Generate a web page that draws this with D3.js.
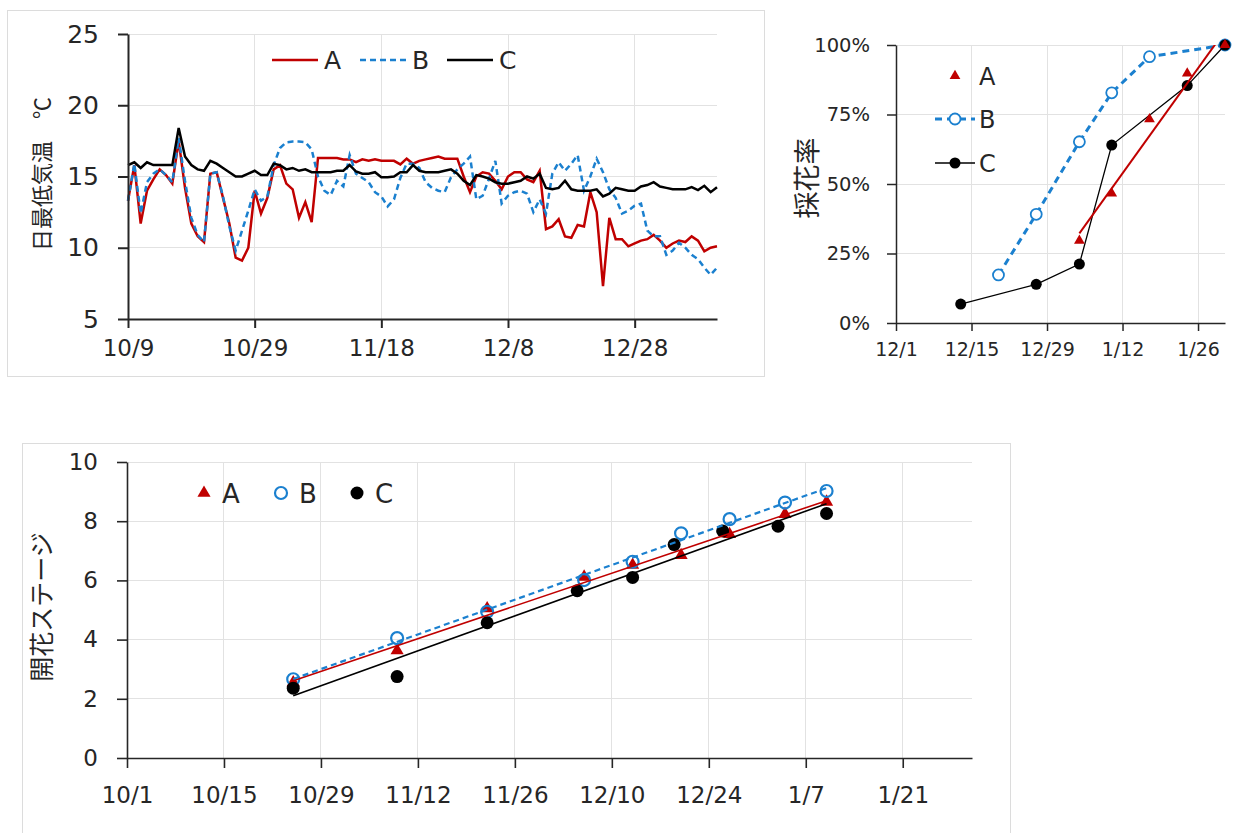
<!DOCTYPE html>
<head>
<meta charset="utf-8">
<title>日最低気温・採花率・開花ステージ</title>
<script src="https://d3js.org/d3.v7.min.js"></script>
<style>
body { margin: 0; background: #ffffff; }
svg text { font-family: "DejaVu Sans", "Noto Sans CJK JP", sans-serif; fill: #262626; }
svg text.jp { font-family: "Noto Sans CJK JP", sans-serif; }
.grid line { stroke: #e2e2e2; stroke-width: 1; shape-rendering: crispEdges; }
.axis path, .axis line { stroke: #262626; }
.frame { fill: none; stroke: #dcdcdc; stroke-width: 1; }
</style>
</head>
<body>
<div id="container"></div>
<script>

//------------------------ DATA ------------------------//

const parseDate = d3.timeParse("%Y-%m-%d");
const fmtMD = d3.timeFormat("%-m/%-d");

const seriesNames = ["A", "B", "C"];
const colA = "#c00000", colB = "#1b80cf", colC = "#000000";

// chart 1 : daily minimum temperature, one value per day from tempStart
const tempStart = "2019-10-09";
const tempA = [13.3, 15.8, 11.7, 14.0, 14.8, 15.5, 15.1, 14.5, 17.5, 14.2,
  11.7, 10.8, 10.4, 15.2, 15.3, 13.5, 11.7, 9.3, 9.1, 10.0,
  14.0, 12.4, 13.5, 15.5, 15.8, 14.5, 14.1, 12.1, 13.2, 11.8,
  16.3, 16.3, 16.3, 16.3, 16.2, 16.2, 16.0, 16.2, 16.1, 16.2,
  16.1, 16.1, 16.1, 15.85, 16.25, 15.9, 16.1, 16.2, 16.3, 16.4,
  16.25, 16.25, 16.25, 15.0, 13.9, 15.0, 15.3, 15.2, 14.7, 14.1,
  15.0, 15.3, 15.3, 14.8, 14.6, 15.4, 11.3, 11.5, 12.0, 10.8,
  10.7, 11.6, 11.5, 13.9, 12.5, 7.3, 12.1, 10.6, 10.6, 10.1,
  10.3, 10.5, 10.6, 10.9, 10.5, 10.0, 10.3, 10.5, 10.4, 10.8,
  10.5, 9.75, 10.0, 10.1];
const tempB = [13.3, 15.9, 12.4, 14.6, 15.2, 15.5, 15.1, 14.6, 17.7, 14.7,
  12.1, 10.9, 10.4, 15.2, 15.3, 13.6, 11.5, 9.8, 11.2, 12.6,
  14.1, 13.3, 13.6, 15.8, 17.0, 17.4, 17.45, 17.45, 17.4, 16.9,
  15.0, 14.0, 13.7, 14.7, 14.3, 16.5, 15.2, 14.9, 14.6, 13.9,
  13.6, 12.9, 13.4, 14.9, 15.9, 15.9, 15.6, 14.6, 14.2, 14.0,
  13.9, 14.95, 15.5, 15.9, 16.4, 13.4, 13.65, 14.85, 16.1, 13.1,
  13.65, 13.9, 14.0, 13.8, 12.5, 13.4, 12.4, 15.2, 16.0, 15.4,
  15.9, 16.5, 14.0, 15.0, 16.25, 15.3, 14.1, 13.5, 12.4, 12.6,
  12.95, 13.1, 11.2, 10.8, 10.8, 9.5, 9.8, 10.35, 10.0, 9.5,
  9.2, 8.6, 8.1, 8.6];
const tempC = [15.8, 16.0, 15.6, 16.0, 15.8, 15.8, 15.8, 15.8, 18.4, 16.4,
  15.8, 15.5, 15.4, 16.1, 15.9, 15.6, 15.3, 15.0, 15.0, 15.2,
  15.4, 15.1, 15.1, 15.9, 15.8, 15.5, 15.6, 15.4, 15.5, 15.3,
  15.3, 15.3, 15.3, 15.4, 15.4, 15.8, 15.35, 15.2, 15.2, 15.3,
  14.95, 14.95, 15.0, 15.3, 15.3, 15.8, 15.4, 15.3, 15.3, 15.3,
  15.4, 15.5, 15.2, 14.7, 14.4, 15.1, 15.0, 14.85, 14.6, 14.5,
  14.5, 14.6, 14.7, 15.0, 14.85, 15.2, 14.2, 14.1, 14.2, 14.7,
  14.1, 14.0, 14.0, 14.0, 14.1, 13.6, 13.8, 14.2, 14.1, 14.0,
  14.0, 14.3, 14.4, 14.6, 14.3, 14.2, 14.1, 14.1, 14.1, 14.25,
  14.05, 14.35, 13.9, 14.25];
const tempDomain = ["2019-10-09", "2020-01-10"];
const tempXTicks = ["2019-10-09", "2019-10-29", "2019-11-18", "2019-12-08", "2019-12-28"];
const tempYTicks = [5, 10, 15, 20, 25];

// chart 2 : 採花率 (%)
const harvDatesA = ["2020-01-04", "2020-01-10", "2020-01-17", "2020-01-24", "2020-01-31"];
const harvA = [29.6, 46.6, 73.3, 89.8, 100];
const harvDatesB = ["2019-12-20", "2019-12-27", "2020-01-04", "2020-01-10", "2020-01-17", "2020-01-31"];
const harvB = [17.3, 39.1, 65.2, 82.8, 95.8, 100];
const harvDatesC = ["2019-12-13", "2019-12-27", "2020-01-04", "2020-01-10", "2020-01-24", "2020-01-31"];
const harvC = [6.8, 13.9, 21.2, 64.0, 85.4, 100];
const harvDomain = ["2019-12-01", "2020-01-31"];
const harvXTicks = ["2019-12-01", "2019-12-15", "2019-12-29", "2020-01-12", "2020-01-26"];
const harvYTicks = [0, 25, 50, 75, 100];

// chart 3 : 開花ステージ
const stageDatesAB = ["2019-10-25", "2019-11-09", "2019-11-22", "2019-12-06", "2019-12-13",
  "2019-12-20", "2019-12-27", "2020-01-04", "2020-01-10"];
const stageA = [2.55, 3.63, 5.05, 6.12, 6.52, 6.85, 7.56, 8.24, 8.65];
const stageB = [2.66, 4.05, 4.94, 6.01, 6.63, 7.59, 8.07, 8.63, 9.02];
const stageDatesC = ["2019-10-25", "2019-11-09", "2019-11-22", "2019-12-05", "2019-12-13",
  "2019-12-19", "2019-12-26", "2020-01-03", "2020-01-10"];
const stageC = [2.36, 2.75, 4.57, 5.65, 6.10, 7.21, 7.67, 7.83, 8.26];
const stageDomain = ["2019-10-01", "2020-01-31"];
const stageXTicks = ["2019-10-01", "2019-10-15", "2019-10-29", "2019-11-12", "2019-11-26",
  "2019-12-10", "2019-12-24", "2020-01-07", "2020-01-21"];
const stageYTicks = [0, 2, 4, 6, 8, 10];

//------------------------ HELPERS ------------------------//

function pairs(dates, vals) {
  return dates.map(function(d, i) { return {date: parseDate(d), v: vals[i]}; });
}

// least squares line through the points, returned at first and last date
function trend(pts) {
  const xs = pts.map(function(p) { return +p.date; });
  const mx = d3.mean(xs), my = d3.mean(pts, function(p) { return p.v; });
  let sxy = 0, sxx = 0;
  pts.forEach(function(p, i) { sxy += (xs[i] - mx) * (p.v - my); sxx += (xs[i] - mx) * (xs[i] - mx); });
  const b = sxy / sxx;
  const ends = [pts[0].date, pts[pts.length - 1].date];
  return ends.map(function(d) { return {date: d, v: my + b * (+d - mx)}; });
}

function drawGrid(g, x, y, xt, yt) {
  const grid = g.append("g").attr("class", "grid");
  grid.selectAll(".gy").data(yt).enter().append("line")
    .attr("x1", x.range()[0]).attr("x2", x.range()[1])
    .attr("y1", function(d) { return y(d); }).attr("y2", function(d) { return y(d); });
  grid.selectAll(".gx").data(xt).enter().append("line")
    .attr("x1", function(d) { return x(d); }).attr("x2", function(d) { return x(d); })
    .attr("y1", y.range()[0]).attr("y2", y.range()[1]);
}

const svg = d3.select("#container").append("svg")
  .attr("width", 1234).attr("height", 833);

//------------------------ CHART 1 : 日最低気温 ------------------------//

svg.append("rect").attr("class", "frame")
  .attr("x", 7.5).attr("y", 10.5).attr("width", 757).attr("height", 366);

const x1 = d3.scaleTime().domain(tempDomain.map(parseDate)).range([128, 717]);
const y1 = d3.scaleLinear().domain([5, 25]).range([319, 34]);
const t1 = tempXTicks.map(parseDate);

drawGrid(svg, x1, y1, t1, tempYTicks);

const start1 = parseDate(tempStart);
const line1 = d3.line()
  .x(function(d, i) { return x1(d3.timeDay.offset(start1, i)); })
  .y(function(d) { return y1(d); });

svg.append("path").attr("d", line1(tempA))
  .attr("fill", "none").attr("stroke", colA).attr("stroke-width", 2.5);
svg.append("path").attr("d", line1(tempB))
  .attr("fill", "none").attr("stroke", colB).attr("stroke-width", 2.5)
  .attr("stroke-dasharray", "6,4");
svg.append("path").attr("d", line1(tempC))
  .attr("fill", "none").attr("stroke", colC).attr("stroke-width", 2.5);

svg.append("g").attr("class", "axis")
  .attr("transform", "translate(0,319)")
  .call(d3.axisBottom(x1).tickValues(t1).tickFormat(fmtMD).tickSize(9).tickSizeOuter(0).tickPadding(12))
  .call(function(g) { g.selectAll("path,line").attr("stroke-width", 2); g.selectAll("text").style("font-size", "23px"); });

svg.append("g").attr("class", "axis")
  .attr("transform", "translate(128,0)")
  .call(d3.axisLeft(y1).tickValues(tempYTicks).tickSize(10).tickSizeOuter(0).tickPadding(19))
  .call(function(g) { g.selectAll("path,line").attr("stroke-width", 2); g.selectAll("text").style("font-size", "25px"); });

svg.append("text").attr("class", "jp")
  .attr("transform", "translate(50,174) rotate(-90)")
  .attr("text-anchor", "middle")
  .style("font-size", "22px")
  .text("日最低気温　℃");

// legend
const leg1 = [{x: 272, c: colA, dash: null}, {x: 360, c: colB, dash: "6,4"}, {x: 447, c: colC, dash: null}];
leg1.forEach(function(l, i) {
  svg.append("line").attr("x1", l.x).attr("x2", l.x + 46).attr("y1", 60).attr("y2", 60)
    .attr("stroke", l.c).attr("stroke-width", 2.5).attr("stroke-dasharray", l.dash);
  svg.append("text").attr("x", l.x + 52).attr("y", 69)
    .style("font-size", "25px").text(seriesNames[i]);
});

//------------------------ CHART 2 : 採花率 ------------------------//

const x2 = d3.scaleTime().domain(harvDomain.map(parseDate)).range([896, 1225]);
const y2 = d3.scaleLinear().domain([0, 100]).range([323, 45]);
const t2 = harvXTicks.map(parseDate);

drawGrid(svg, x2, y2, t2, harvYTicks);

const ptsA2 = pairs(harvDatesA, harvA), ptsB2 = pairs(harvDatesB, harvB), ptsC2 = pairs(harvDatesC, harvC);
const line2 = d3.line().x(function(d) { return x2(d.date); }).y(function(d) { return y2(d.v); });

svg.append("defs").append("clipPath").attr("id", "clip2")
  .append("rect").attr("x", 896).attr("y", 45).attr("width", 329).attr("height", 278);

svg.append("path").attr("d", line2(ptsB2))
  .attr("fill", "none").attr("stroke", colB).attr("stroke-width", 3).attr("stroke-dasharray", "7,5");
svg.selectAll(".ptB2").data(ptsB2).enter().append("circle")
  .attr("cx", function(d) { return x2(d.date); }).attr("cy", function(d) { return y2(d.v); })
  .attr("r", 5.5).attr("fill", "#fff").attr("stroke", colB).attr("stroke-width", 1.8);

svg.append("path").attr("d", line2(ptsC2))
  .attr("fill", "none").attr("stroke", colC).attr("stroke-width", 1.3);
svg.selectAll(".ptC2").data(ptsC2).enter().append("circle")
  .attr("cx", function(d) { return x2(d.date); }).attr("cy", function(d) { return y2(d.v); })
  .attr("r", 5.5).attr("fill", colC);

svg.selectAll(".ptA2").data(ptsA2).enter().append("path")
  .attr("d", d3.symbol(d3.symbolTriangle).size(50))
  .attr("transform", function(d) { return "translate(" + x2(d.date) + "," + y2(d.v) + ")"; })
  .attr("fill", colA);
svg.append("path").attr("d", line2(trend(ptsA2)))
  .attr("clip-path", "url(#clip2)")
  .attr("fill", "none").attr("stroke", colA).attr("stroke-width", 2);

svg.append("g").attr("class", "axis")
  .attr("transform", "translate(0,323)")
  .call(d3.axisBottom(x2).tickValues(t2).tickFormat(fmtMD).tickSize(8).tickSizeOuter(0).tickPadding(12))
  .call(function(g) { g.selectAll("path,line").attr("stroke-width", 1.5); g.selectAll("text").style("font-size", "19px"); });

svg.append("g").attr("class", "axis")
  .attr("transform", "translate(896,0)")
  .call(d3.axisLeft(y2).tickValues(harvYTicks).tickFormat(function(d) { return d + "%"; }).tickSize(9).tickSizeOuter(0).tickPadding(17))
  .call(function(g) { g.selectAll("path,line").attr("stroke-width", 1.5); g.selectAll("text").style("font-size", "19.5px"); });

svg.append("text").attr("class", "jp")
  .attr("transform", "translate(817,178) rotate(-90)")
  .attr("text-anchor", "middle")
  .style("font-size", "27px")
  .text("採花率");

// legend
svg.append("path").attr("d", d3.symbol(d3.symbolTriangle).size(50))
  .attr("transform", "translate(955,76)").attr("fill", colA);
svg.append("line").attr("x1", 935).attr("x2", 975).attr("y1", 119).attr("y2", 119)
  .attr("stroke", colB).attr("stroke-width", 3).attr("stroke-dasharray", "7,5");
svg.append("circle").attr("cx", 955).attr("cy", 119).attr("r", 5.5)
  .attr("fill", "#fff").attr("stroke", colB).attr("stroke-width", 1.8);
svg.append("line").attr("x1", 935).attr("x2", 975).attr("y1", 163).attr("y2", 163)
  .attr("stroke", colC).attr("stroke-width", 1.3);
svg.append("circle").attr("cx", 955).attr("cy", 163).attr("r", 5.5).attr("fill", colC);
[76, 119, 163].forEach(function(yy, i) {
  svg.append("text").attr("x", 979).attr("y", yy + 9)
    .style("font-size", "24px").text(seriesNames[i]);
});

//------------------------ CHART 3 : 開花ステージ ------------------------//

svg.append("rect").attr("class", "frame")
  .attr("x", 22.5).attr("y", 443.5).attr("width", 988).attr("height", 420);

const x3 = d3.scaleTime().domain(stageDomain.map(parseDate)).range([127, 972]);
const y3 = d3.scaleLinear().domain([0, 10]).range([758, 462]);
const t3 = stageXTicks.map(parseDate);

drawGrid(svg, x3, y3, t3, stageYTicks);

const ptsA3 = pairs(stageDatesAB, stageA), ptsB3 = pairs(stageDatesAB, stageB), ptsC3 = pairs(stageDatesC, stageC);
const line3 = d3.line().x(function(d) { return x3(d.date); }).y(function(d) { return y3(d.v); });

svg.selectAll(".ptA3").data(ptsA3).enter().append("path")
  .attr("d", d3.symbol(d3.symbolTriangle).size(75))
  .attr("transform", function(d) { return "translate(" + x3(d.date) + "," + y3(d.v) + ")"; })
  .attr("fill", colA);
svg.selectAll(".ptB3").data(ptsB3).enter().append("circle")
  .attr("cx", function(d) { return x3(d.date); }).attr("cy", function(d) { return y3(d.v); })
  .attr("r", 6).attr("fill", "none").attr("stroke", colB).attr("stroke-width", 2.2);
svg.selectAll(".ptC3").data(ptsC3).enter().append("circle")
  .attr("cx", function(d) { return x3(d.date); }).attr("cy", function(d) { return y3(d.v); })
  .attr("r", 6.5).attr("fill", colC);

svg.append("path").attr("d", line3(trend(ptsA3)))
  .attr("fill", "none").attr("stroke", colA).attr("stroke-width", 1.6);
svg.append("path").attr("d", line3(trend(ptsB3)))
  .attr("fill", "none").attr("stroke", colB).attr("stroke-width", 2.2).attr("stroke-dasharray", "6,4");
svg.append("path").attr("d", line3(trend(ptsC3)))
  .attr("fill", "none").attr("stroke", colC).attr("stroke-width", 1.6);

svg.append("g").attr("class", "axis")
  .attr("transform", "translate(0,758)")
  .call(d3.axisBottom(x3).tickValues(t3).tickFormat(fmtMD).tickSize(10).tickSizeOuter(0).tickPadding(19))
  .call(function(g) { g.selectAll("path,line").attr("stroke-width", 1.6); g.selectAll("text").style("font-size", "23px"); });

svg.append("g").attr("class", "axis")
  .attr("transform", "translate(127,0)")
  .call(d3.axisLeft(y3).tickValues(stageYTicks).tickSize(10).tickSizeOuter(0).tickPadding(19))
  .call(function(g) { g.selectAll("path,line").attr("stroke-width", 1.6); g.selectAll("text").style("font-size", "23px"); });

svg.append("text").attr("class", "jp")
  .attr("transform", "translate(51,607) rotate(-90)")
  .attr("text-anchor", "middle")
  .style("font-size", "25px")
  .text("開花ステージ");

// legend
svg.append("path").attr("d", d3.symbol(d3.symbolTriangle).size(75))
  .attr("transform", "translate(204,493)").attr("fill", colA);
svg.append("circle").attr("cx", 281).attr("cy", 493).attr("r", 6)
  .attr("fill", "none").attr("stroke", colB).attr("stroke-width", 2.2);
svg.append("circle").attr("cx", 357).attr("cy", 493).attr("r", 6.5).attr("fill", colC);
[222, 299, 375].forEach(function(xx, i) {
  svg.append("text").attr("x", xx).attr("y", 503)
    .style("font-size", "26px").text(seriesNames[i]);
});

</script>
</body>
